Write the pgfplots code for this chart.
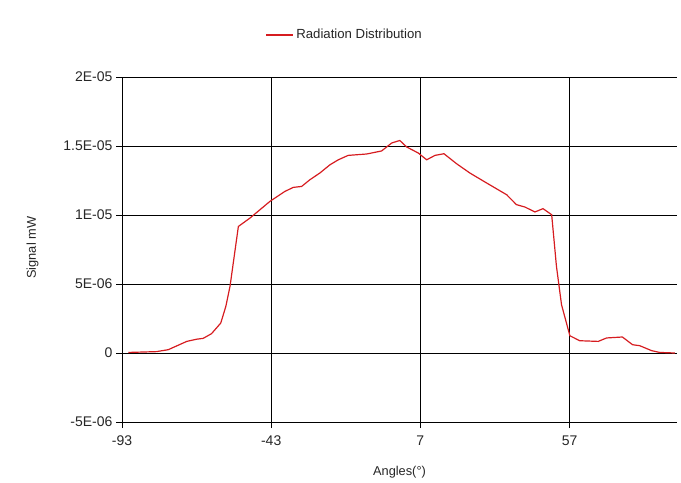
\documentclass[border=0pt]{standalone}
\usepackage{pgfplots}
\pgfplotsset{compat=1.18}
\usepackage{fontspec}
\setmainfont{Liberation Sans}
\definecolor{curve}{RGB}{214,28,32}
\begin{document}
\fontsize{13bp}{15bp}\selectfont
\begin{tikzpicture}
\begin{axis}[
  scale only axis,
  width=555bp, height=345bp,
  xmin=-93, xmax=93,
  ymin=-5e-6, ymax=2e-5,
  axis lines*=left,
  axis line style={black, line width=0.8pt},
  grid=major,
  major grid style={black, line width=0.8pt},
  xtick={-93,-43,7,57},
  xticklabels={-93,-43,7,57},
  ytick={-5e-6,0,5e-6,1e-5,1.5e-5,2e-5},
  yticklabels={-5E-06,0,5E-06,1E-05,1.5E-05,2E-05},
  scaled y ticks=false,
  tick align=outside,
  major tick length=6bp,
  tick style={black, line width=0.8pt},
  tick label style={font=\fontsize{14bp}{16bp}\selectfont, text=black!85},
  xticklabel style={yshift=-3bp},
  yticklabel style={xshift=1bp},
  xlabel={Angles(°)},
  ylabel={Signal mW},
  label style={font=\fontsize{12.8bp}{15bp}\selectfont, text=black!85},
  xlabel style={at={(axis description cs:0.5,-0.145)}, anchor=center},
  ylabel style={at={(axis description cs:-0.161,0.505)}, anchor=center},
  legend style={at={(axis description cs:0.401,1.122)}, anchor=center, draw=none, fill=none,
    font=\fontsize{13.2bp}{15bp}\selectfont, text=black!85},
  legend cell align=left,
  legend image code/.code={\draw[#1, line width=2pt] (0bp,0bp) -- (27bp,0bp);},
  clip=false,
]
\addplot[curve, line width=1.2pt] coordinates {
(-90.9,0.04e-6) (-81.4,0.10e-6) (-77.5,0.24e-6) (-71.3,0.84e-6) (-68.0,1.00e-6)
(-65.8,1.06e-6) (-63.0,1.40e-6) (-59.9,2.17e-6) (-58.2,3.38e-6) (-56.8,4.83e-6)
(-54.0,9.17e-6) (-50.1,9.78e-6) (-43.4,10.99e-6) (-38.4,11.71e-6) (-35.6,12.00e-6)
(-32.8,12.07e-6) (-30.0,12.56e-6) (-26.7,13.04e-6) (-23.3,13.64e-6) (-20.5,14.00e-6)
(-17.2,14.32e-6) (-11.0,14.42e-6) (-6.0,14.64e-6) (-2.6,15.22e-6) (0.1,15.40e-6)
(2.4,14.93e-6) (6.3,14.49e-6) (9.1,14.00e-6) (11.9,14.32e-6) (14.9,14.44e-6)
(19.1,13.72e-6) (23.6,13.04e-6) (29.2,12.32e-6) (35.9,11.47e-6) (39.2,10.75e-6)
(42.0,10.58e-6) (45.4,10.22e-6) (48.1,10.46e-6) (51.0,10.02e-6) (52.6,6.28e-6)
(54.3,3.50e-6) (57.1,1.25e-6) (60.4,0.89e-6) (66.6,0.84e-6) (69.4,1.09e-6)
(74.7,1.16e-6) (78.1,0.60e-6) (80.5,0.53e-6) (84.5,0.17e-6) (87.2,0.04e-6)
(92.3,0.0)
};
\addlegendentry{Radiation Distribution}
\end{axis}
\path ([shift={(-122bp,-57bp)}]current axis.south west) rectangle ([shift={(4bp,77bp)}]current axis.north east);
\end{tikzpicture}
\end{document}
